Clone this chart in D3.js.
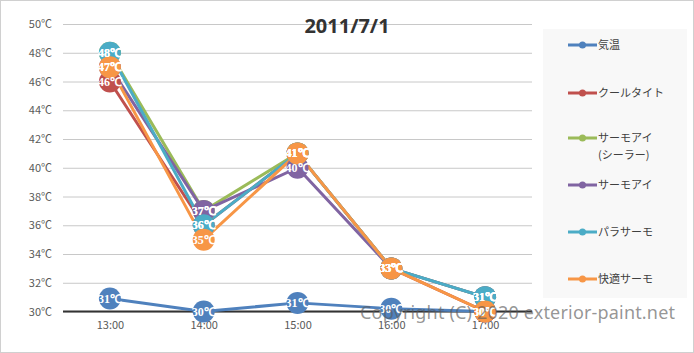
<!DOCTYPE html>
<html>
<head>
  <meta charset="utf-8">
  <script src="https://cdn.jsdelivr.net/npm/d3@7/dist/d3.min.js"></script>
  <style>
    body { margin: 0; background: #ffffff; }
    .tick text { font-family: "Noto Sans CJK JP", sans-serif; font-size: 11px; fill: #595959; }
  </style>
</head>
<body>
  <svg width="694" height="353" id="mainsvg"></svg>
  <script>
    const times = ["13:00", "14:00", "15:00", "16:00", "17:00"];
    const seriesNames = ["気温", "クールタイト", "サーモアイ\n(シーラー)", "サーモアイ", "パラサーモ", "快適サーモ"];
    const seriesColors = ["#4f81bd", "#c0504d", "#9bbb59", "#8064a2", "#4bacc6", "#f79646"];
    const kion = [30.9, 30.0, 30.6, 30.2, 30.0];
    const coolTight = [46, 36, 41, 33, 30];
    const thermoEyeSealer = [48, 37, 41, 33, 31];
    const thermoEye = [47, 37, 40, 33, 31];
    const paraThermo = [48, 36, 41, 33, 31];
    const kaitekiThermo = [47, 35, 41, 33, 30];
    const yTicks = [30, 32, 34, 36, 38, 40, 42, 44, 46, 48, 50];
    const title = "2011/7/1";
    const watermark = "Copyright (C) 2020 exterior-paint.net";

    const allSeries = [kion, coolTight, thermoEyeSealer, thermoEye, paraThermo, kaitekiThermo];

    const svg = d3.select('#mainsvg');
    const width = +svg.attr('width');
    const height = +svg.attr('height');
    const margin = { top: 24, right: 162, bottom: 42, left: 63 };

    // outer frame
    svg.append('rect')
      .attr('x', 0.5).attr('y', 0.5)
      .attr('width', width - 1).attr('height', height - 1)
      .attr('fill', '#fff').attr('stroke', '#d0d0d0');

    const xScale = d3.scalePoint()
      .domain(times)
      .range([margin.left, width - margin.right])
      .padding(0.5);
    const yScale = d3.scaleLinear()
      .domain([30, 50])
      .range([height - margin.bottom + 0.5, margin.top]);

    // gridlines + y labels
    const yAxis = d3.axisLeft(yScale)
      .tickValues(yTicks)
      .tickSize(-(width - margin.right - margin.left))
      .tickPadding(11)
      .tickFormat(d => d + "℃");
    const yg = svg.append('g')
      .attr('transform', `translate(${margin.left},0)`)
      .call(yAxis);
    yg.select('.domain').remove();
    yg.selectAll('.tick line').attr('stroke', '#c8c8c8');

    // x labels
    const xAxis = d3.axisBottom(xScale).tickSize(0).tickPadding(10);
    const xg = svg.append('g')
      .attr('transform', `translate(0,${yScale(30)})`)
      .call(xAxis);
    xg.select('.domain').remove();

    // base line at 30
    svg.append('line')
      .attr('x1', margin.left).attr('x2', width - margin.right)
      .attr('y1', yScale(30)).attr('y2', yScale(30))
      .attr('stroke', '#333').attr('stroke-width', 2);

    // title
    svg.append('text')
      .attr('x', 347).attr('y', 33)
      .attr('text-anchor', 'middle')
      .style('font-family', '"Noto Sans", sans-serif')
      .style('font-weight', 'bold')
      .style('font-size', '20px')
      .attr('fill', '#333')
      .text(title);

    const line = d3.line()
      .x((d, i) => xScale(times[i]))
      .y(d => yScale(d));

    const plot = svg.append('g');
    allSeries.forEach((s, k) => {
      plot.append('path')
        .attr('d', line(s))
        .attr('fill', 'none')
        .attr('stroke', seriesColors[k])
        .attr('stroke-width', 3)
        .attr('stroke-linejoin', 'round');
    });
    allSeries.forEach((s, k) => {
      plot.selectAll(null)
        .data(s)
        .enter()
        .append('circle')
        .attr('cx', (d, i) => xScale(times[i]))
        .attr('cy', d => yScale(d))
        .attr('r', 11)
        .attr('fill', seriesColors[k]);
    });
    allSeries.forEach((s, k) => {
      plot.selectAll(null)
        .data(s)
        .enter()
        .append('text')
        .attr('x', (d, i) => xScale(times[i]))
        .attr('y', d => yScale(d) + 4)
        .attr('text-anchor', 'middle')
        .style('font-family', '"Liberation Serif", serif')
        .style('font-size', '12px')
        .style('font-weight', 'bold')
        .attr('fill', '#fff')
        .text(d => Math.round(d) + "℃");
    });

    // watermark
    svg.append('text')
      .attr('x', 360).attr('y', 319)
      .attr('textLength', 315)
      .style('font-family', '"Noto Sans", sans-serif')
      .style('font-size', '18px')
      .attr('fill', 'rgba(90,90,90,0.65)')
      .text(watermark);

    // legend
    const legend = svg.append('g');
    legend.append('rect')
      .attr('x', 543).attr('y', 29)
      .attr('width', 144).attr('height', 269)
      .attr('fill', '#f8f8f8');
    const legendY = [45, 93, 138, 185, 232, 279];
    seriesNames.forEach((name, k) => {
      const g = legend.append('g').attr('transform', `translate(568,${legendY[k]})`);
      g.append('line').attr('x1', 0).attr('x2', 29).attr('y1', 0).attr('y2', 0)
        .attr('stroke', seriesColors[k]).attr('stroke-width', 3);
      g.append('circle').attr('cx', 14.5).attr('cy', 0).attr('r', 3.5)
        .attr('fill', seriesColors[k]);
      const t = g.append('text')
        .attr('x', 30).attr('y', 4)
        .style('font-family', '"Noto Sans CJK JP", sans-serif')
        .style('font-size', '11px')
        .attr('fill', '#404040');
      name.split("\n").forEach((part, j) => {
        t.append('tspan').attr('x', 30).attr('dy', j === 0 ? 0 : 17).text(part);
      });
    });
  </script>
</body>
</html>
